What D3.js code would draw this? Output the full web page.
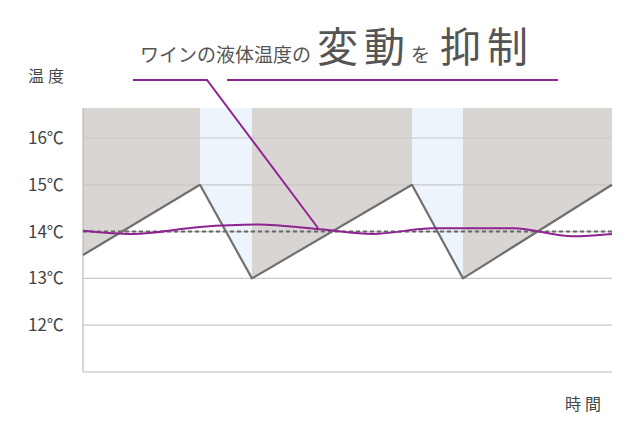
<!DOCTYPE html>
<html><head><meta charset="utf-8">
<script src="https://cdn.jsdelivr.net/npm/d3@7"></script>
<style>body{margin:0;background:#fff}</style>
</head><body><div id="viz"></div>
<script>
var width = 641, height = 426;

// time in arbitrary units, temperature in °C
var coolerT = [0, 117, 169, 329, 380, 529];
var coolerV = [13.5, 15, 13, 15, 13, 15];
var wineT = [0, 50, 117, 175, 237, 290, 350, 430, 490, 529];
var wineV = [14.02, 13.95, 14.1, 14.15, 14.05, 13.95, 14.07, 14.07, 13.9, 13.95];
var bands = [[0, 117, 'gray'], [117, 169, 'blue'], [169, 329, 'gray'], [329, 380, 'blue'], [380, 529, 'gray']];
var yTicks = [12, 13, 14, 15, 16];

var x = d3.scaleLinear().domain([0, 529]).range([83, 612]);
var y = d3.scaleLinear().domain([11, 16]).range([372, 138]);
var topY = 108;

var svg = d3.select('#viz').append('svg')
  .attr('width', width).attr('height', height);

var font = '"Noto Sans CJK JP", sans-serif';

// bands above the cooler line
var cooler = coolerT.map(function(t, i) { return [t, coolerV[i]]; });
function coolerAt(t) {
  for (var i = 1; i < cooler.length; i++) {
    if (t <= cooler[i][0]) {
      var a = cooler[i - 1], b = cooler[i];
      return a[1] + (b[1] - a[1]) * (t - a[0]) / (b[0] - a[0]);
    }
  }
  return cooler[cooler.length - 1][1];
}
bands.forEach(function(b) {
  var pts = [[x(b[0]), topY]];
  var ts = [b[0]].concat(coolerT.filter(function(t) { return t > b[0] && t < b[1]; }), [b[1]]);
  ts.forEach(function(t) { pts.push([x(t), y(coolerAt(t))]); });
  pts.push([x(b[1]), topY]);
  svg.append('path')
    .attr('d', d3.line()(pts) + 'Z')
    .attr('fill', b[2] == 'gray' ? '#d9d5d3' : '#eef4fb');
});

// grid
svg.selectAll('.grid').data(yTicks).enter().append('line')
  .attr('x1', x(0)).attr('x2', x(529))
  .attr('y1', function(d) { return y(d); }).attr('y2', function(d) { return y(d); })
  .attr('stroke', '#c8c8c8').attr('stroke-width', 1.2);

// axes
svg.append('line').attr('x1', 83).attr('x2', 83).attr('y1', topY).attr('y2', 372)
  .attr('stroke', '#bbb').attr('stroke-width', 1.2);
svg.append('line').attr('x1', 83).attr('x2', 612).attr('y1', 372).attr('y2', 372)
  .attr('stroke', '#bbb').attr('stroke-width', 1.2);

svg.selectAll('.yl').data(yTicks).enter().append('text')
  .attr('x', 28).attr('y', function(d) { return y(d) + 6; })
  .attr('font-family', font).attr('font-size', 17).attr('fill', '#444')
  .text(function(d) { return d + '℃'; });

svg.append('text').attr('x', 28).attr('y', 82).attr('font-family', font)
  .attr('font-size', 16).attr('fill', '#444').attr('letter-spacing', 4).text('温度');
svg.append('text').attr('x', 565).attr('y', 410).attr('font-family', font)
  .attr('font-size', 16).attr('fill', '#444').attr('letter-spacing', 4).text('時間');

// dashed 14°C
svg.append('line').attr('x1', x(0)).attr('x2', x(529)).attr('y1', y(14)).attr('y2', y(14))
  .attr('stroke', '#666').attr('stroke-width', 2).attr('stroke-dasharray', '4,3');

// cooler line
svg.append('path').datum(cooler)
  .attr('d', d3.line().x(function(d) { return x(d[0]); }).y(function(d) { return y(d[1]); }))
  .attr('fill', 'none').attr('stroke', '#707070').attr('stroke-width', 2.2)
  .attr('stroke-linejoin', 'round');

// wine line
svg.append('path').datum(wineT.map(function(t, i) { return [t, wineV[i]]; }))
  .attr('d', d3.line().x(function(d) { return x(d[0]); }).y(function(d) { return y(d[1]); })
    .curve(d3.curveMonotoneX))
  .attr('fill', 'none').attr('stroke', '#8e2490').attr('stroke-width', 2);

// title
var title = svg.append('text').attr('x', 140).attr('y', 62).attr('font-family', font).attr('fill', '#555');
title.append('tspan').attr('font-size', 19).text('ワインの液体温度の');
title.append('tspan').attr('font-size', 41).attr('dx', 6).attr('letter-spacing', 6).text('変動');
title.append('tspan').attr('font-size', 19).text('を');
title.append('tspan').attr('font-size', 41).attr('dx', 10).attr('letter-spacing', 6).text('抑制');

// callout
svg.append('path').attr('d', 'M133,80 L207,80 L318,228')
  .attr('fill', 'none').attr('stroke', '#8e2490').attr('stroke-width', 2);
svg.append('line').attr('x1', 227).attr('x2', 558).attr('y1', 80).attr('y2', 80)
  .attr('stroke', '#8e2490').attr('stroke-width', 2);
</script></body></html>
